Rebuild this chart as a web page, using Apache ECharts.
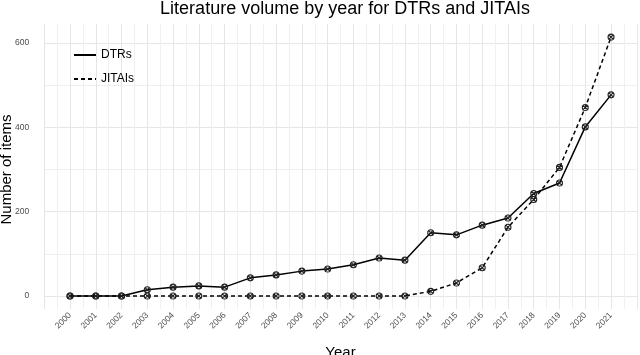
<!DOCTYPE html>
<html>
<head>
<meta charset="utf-8">
<script src="https://cdn.jsdelivr.net/npm/echarts@6/dist/echarts.min.js"></script>
<style>
    html, body { margin: 0; padding: 0; background: #fff; }
    #chart { width: 640px; height: 355px; }
</style>
</head>
<body>
<div id="chart"></div>
<script>
var years = [2000, 2001, 2002, 2003, 2004, 2005, 2006, 2007, 2008, 2009, 2010,
    2011, 2012, 2013, 2014, 2015, 2016, 2017, 2018, 2019, 2020, 2021]
var dtrs = [0, 0, 0, 15, 21, 24, 21, 43, 50, 59, 64, 74, 90, 85, 150, 145, 168, 185, 243, 268, 401, 477]
var jitais = [0, 0, 0, 0, 0, 0, 0, 0, 0, 0, 0, 0, 0, 0, 11, 31, 67, 163, 229, 305, 447, 614]
var yTicks = [0, 200, 400, 600]

var font = 'Liberation Sans, Arial, sans-serif'
// circle with a cross inside, like the R point shape
var pointShape = 'path://M10,0A10,10,0,1,1,10,20A10,10,0,1,1,10,0ZM3,3L17,17M3,17L17,3'

function pairs (vals) {
    return years.map(function (y, i) { return [y, vals[i]] })
}

var chart = echarts.init(document.getElementById('chart'))

var option = {
    backgroundColor: '#fff',
    animation: false,
    title: {
        text: 'Literature volume by year for DTRs and JITAIs',
        left: 340,
        textAlign: 'center',
        top: -5,
        textStyle: { fontFamily: font, fontSize: 18, fontWeight: 'normal', color: '#000' }
    },
    legend: {
        orient: 'vertical',
        left: 68,
        top: 44,
        itemWidth: 22,
        itemHeight: 10,
        itemGap: 12,
        itemStyle: { opacity: 0 },
        textStyle: { fontFamily: font, fontSize: 12, color: '#000' },
        data: ['DTRs', 'JITAIs']
    },
    grid: [
        // data panel: 0..600 on y
        { left: 44.24, right: 3.2, top: 43, bottom: 59, outerBoundsMode: 'none', containLabel: false },
        // full panel, used for the vertical grid lines and x labels
        { left: 44.24, right: 3.2, top: 24, bottom: 46, outerBoundsMode: 'none', containLabel: false }
    ],
    xAxis: [{
        gridIndex: 0,
        type: 'value',
        min: 1999,
        max: 2022,
        interval: 1,
        show: false,
        splitLine: { show: false }
    }, {
        gridIndex: 1,
        type: 'value',
        min: 1999,
        max: 2022,
        interval: 1,
        name: 'Year',
        nameLocation: 'middle',
        nameGap: 36,
        nameMoveOverlap: false,
        nameTextStyle: { fontFamily: font, fontSize: 15, color: '#000' },
        axisLine: { show: false },
        axisTick: { show: false },
        axisLabel: {
            rotate: 45,
            margin: 5,
            fontFamily: font,
            fontSize: 8.5,
            color: '#4d4d4d',
            formatter: function (v) {
                return (v >= years[0] && v <= years[years.length - 1]) ? String(v) : ''
            }
        },
        splitLine: { show: true, lineStyle: { color: '#e6e6e6', width: 1 } },
        minorTick: { show: false, splitNumber: 2 },
        minorSplitLine: { show: true, lineStyle: { color: '#f0f0f0', width: 1 } }
    }],
    yAxis: [{
        gridIndex: 0,
        type: 'value',
        min: yTicks[0],
        max: yTicks[yTicks.length - 1],
        interval: 200,
        name: 'Number of items',
        nameLocation: 'middle',
        nameGap: 30,
        nameMoveOverlap: false,
        nameTextStyle: { fontFamily: font, fontSize: 15, color: '#000' },
        axisLine: { show: false },
        axisTick: { show: false },
        axisLabel: { margin: 15, fontFamily: font, fontSize: 8.5, color: '#4d4d4d' },
        splitLine: { show: true, lineStyle: { color: '#e6e6e6', width: 1 } },
        minorTick: { show: false, splitNumber: 2 },
        minorSplitLine: { show: true, lineStyle: { color: '#f0f0f0', width: 1 } }
    }, {
        gridIndex: 1,
        type: 'value',
        show: false,
        splitLine: { show: false }
    }],
    series: [{
        name: 'DTRs',
        type: 'line',
        xAxisIndex: 0,
        yAxisIndex: 0,
        clip: false,
        data: pairs(dtrs),
        symbol: pointShape,
        symbolSize: 6,
        itemStyle: { color: 'rgba(0,0,0,0)', borderColor: '#222', borderWidth: 1.1 },
        lineStyle: { color: '#000', width: 1.5, type: 'solid' },
        z: 3
    }, {
        name: 'JITAIs',
        type: 'line',
        xAxisIndex: 0,
        yAxisIndex: 0,
        clip: false,
        data: pairs(jitais),
        symbol: pointShape,
        symbolSize: 6,
        itemStyle: { color: 'rgba(0,0,0,0)', borderColor: '#222', borderWidth: 1.1 },
        lineStyle: { color: '#000', width: 1.5, type: [4, 3] },
        z: 2
    }]
}
chart.setOption(option)
</script>
</body>
</html>
